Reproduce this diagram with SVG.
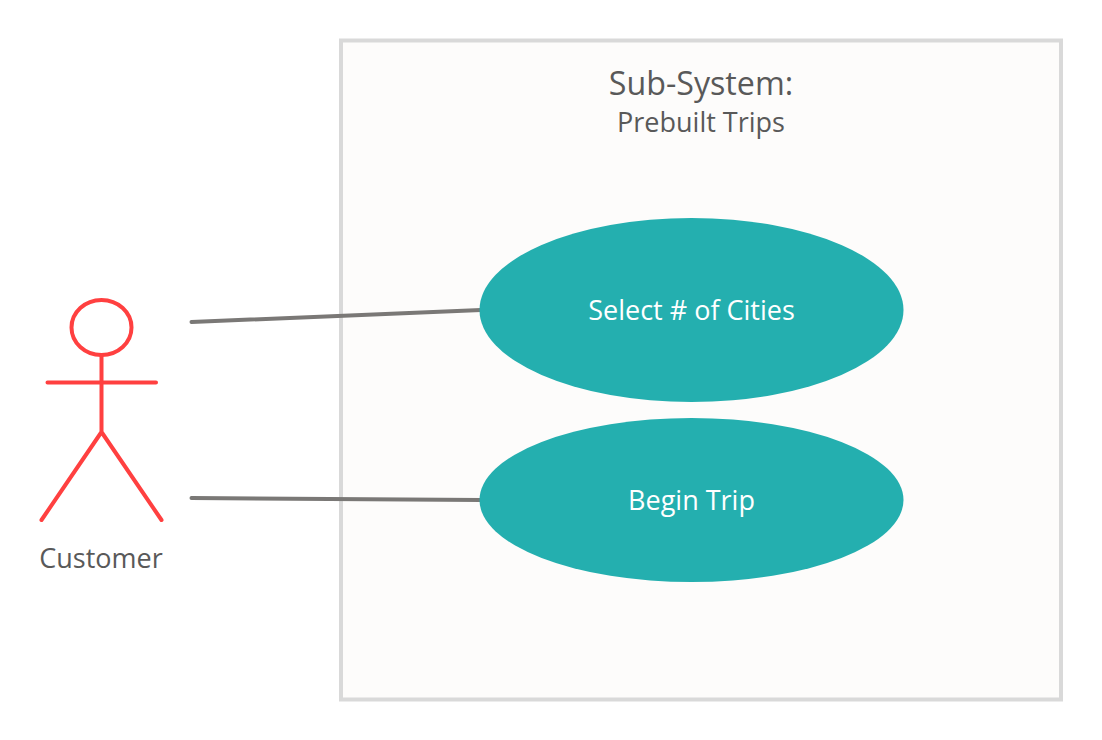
<svg xmlns="http://www.w3.org/2000/svg" width="1102" height="740" viewBox="0 0 1102 740">
<style>
text{font-family:"Open Sans","Noto Sans",sans-serif;text-anchor:middle}
.dark{fill:#595959}
.light{fill:#fff;font-size:27px}
.uc{fill:#24afaf}
.act{fill:none;stroke:#ff4040;stroke-width:4;stroke-linecap:round}
.conn{fill:none;stroke:#7a7876;stroke-width:4;stroke-linecap:round}
</style>
<rect width="1102" height="740" fill="#fff"/>
<g id="system">
<rect x="341" y="40.500" width="720" height="659" fill="#fdfcfb" stroke="#d9d9d9" stroke-width="4"/>
<text x="701" y="95" class="dark" font-size="32.200">Sub-System:</text>
<text x="701" y="132" class="dark" font-size="27">Prebuilt Trips</text>
</g>
<g id="connectors">
<path class="conn" d="M191.500 322L481 310"/>
<path class="conn" d="M191.500 498L481 500"/>
</g>
<g id="select-cities">
<ellipse class="uc" cx="691.500" cy="310" rx="212" ry="92"/>
<text x="691.500" y="320" class="light">Select # of Cities</text>
</g>
<g id="begin-trip">
<ellipse class="uc" cx="691.500" cy="500" rx="212" ry="82"/>
<text x="691.500" y="510" class="light">Begin Trip</text>
</g>
<g id="customer">
<ellipse class="act" cx="101.500" cy="327.500" rx="30" ry="27.500"/>
<path class="act" d="M101.500 355V432M47.500 382.500H156M101.500 432L41.500 520M101.500 432L161.500 520"/>
<text x="101" y="568" class="dark" font-size="27">Customer</text>
</g>
</svg>
